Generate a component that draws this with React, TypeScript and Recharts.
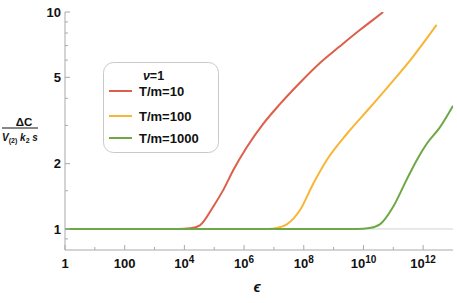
import React from 'react';
import { LineChart, Line, XAxis, YAxis, ReferenceLine } from 'recharts';

// log10(epsilon) and ΔC/(V(2) k2 s)
const redExp = [0, 3.8, 4.2, 4.52, 4.97, 5.3, 5.64, 6.09, 6.64, 7.2, 7.87, 8.54, 9.21, 9.9, 10.3, 10.66];
const redVal = [1, 1, 1.008, 1.04, 1.27, 1.51, 1.87, 2.38, 3.05, 3.76, 4.72, 5.82, 6.95, 8.3, 9.15, 10];
const orangeExp = [0, 6.8, 7.1, 7.43, 7.87, 8.32, 8.76, 9.44, 10.22, 10.89, 11.67, 12.45];
const orangeVal = [1, 1, 1.01, 1.05, 1.22, 1.62, 2.07, 2.74, 3.63, 4.64, 6.25, 8.72];
const greenExp = [0, 9.8, 10.2, 10.55, 11.0, 11.44, 11.78, 12.12, 12.56, 13.0];
const greenVal = [1, 1, 1.01, 1.05, 1.27, 1.68, 2.07, 2.47, 2.94, 3.7];

const seriesNames = ['T/m=10', 'T/m=100', 'T/m=1000'];
const seriesColors = ['#DC5F4A', '#F9B535', '#6DA845'];

const xMajorExp = [0, 2, 4, 6, 8, 10, 12];
const xMinorExp = [1, 3, 5, 7, 9, 11];
const yMajor = [1, 2, 5, 10];
const yMinor = [0.9, 1.5, 3, 4, 6, 7, 8, 9];
const xDomain = [1, 1e13];
const yDomain = [0.8, 10];

const toData = (exps: number[], vals: number[]) =>
  exps.map((e, i) => ({ eps: Math.pow(10, e), dc: vals[i] }));
const seriesData = [toData(redExp, redVal), toData(orangeExp, orangeVal), toData(greenExp, greenVal)];

const xTicks = [...xMajorExp, ...xMinorExp].sort((a, b) => a - b).map((e) => Math.pow(10, e));
const yTicks = [...yMajor, ...yMinor].sort((a, b) => a - b);

const FRAME = '#a9a9a9';
const FONT = '"Liberation Sans", Arial, sans-serif';

const expOf = (v: number) => Math.round(Math.log10(v));
const isXMajor = (v: number) => xMajorExp.includes(expOf(v));
const isYMajor = (v: number) => yMajor.includes(v);

const BottomTick = (p: any) => {
  const { x, y, payload } = p;
  const v = payload.value;
  const e = expOf(v);
  const major = isXMajor(v);
  return (
    <g>
      <line x1={x} x2={x} y1={y} y2={y - (major ? 5 : 3)} stroke={FRAME} />
      {major && (
        <text x={x} y={y + 18} textAnchor="middle" fontSize={13} fontWeight="bold" fontFamily={FONT} fill="#111">
          {e === 0 ? '1' : e === 2 ? '100' : (
            <>
              <tspan>10</tspan>
              <tspan dy={-5} fontSize={10}>{e}</tspan>
            </>
          )}
        </text>
      )}
    </g>
  );
};

const TopTick = (p: any) => {
  const { x, y, payload } = p;
  const major = isXMajor(payload.value);
  return <line x1={x} x2={x} y1={y} y2={y + (major ? 5 : 3)} stroke={FRAME} />;
};

const LeftTick = (p: any) => {
  const { x, y, payload } = p;
  const v = payload.value;
  const major = isYMajor(v);
  return (
    <g>
      <line x1={x} x2={x + (major ? 5 : 3)} y1={y} y2={y} stroke={FRAME} />
      {major && (
        <text x={x - 4} y={y} dy="0.36em" textAnchor="end" fontSize={13} fontWeight="bold" fontFamily={FONT} fill="#111">
          {v}
        </text>
      )}
    </g>
  );
};

const RightTick = (p: any) => {
  const { x, y, payload } = p;
  const major = isYMajor(payload.value);
  return <line x1={x} x2={x - (major ? 5 : 3)} y1={y} y2={y} stroke={FRAME} />;
};

const legendRows = [95.5, 120.5, 142.5];

export default function App() {
  return (
    <div style={{ position: 'absolute', left: 0, top: 0, width: 457, height: 303, background: '#fff' }}>
      <LineChart width={457} height={303} margin={{ top: 12, right: 4, left: 0, bottom: 0 }}>
        <XAxis
          xAxisId="b"
          dataKey="eps"
          type="number"
          scale="log"
          domain={xDomain}
          allowDataOverflow
          ticks={xTicks}
          interval={0}
          height={53}
          tickSize={0}
          tickMargin={0}
          tickLine={false}
          axisLine={{ stroke: FRAME }}
          tick={(p: any) => <BottomTick {...p} />}
        />
        <XAxis
          xAxisId="t"
          orientation="top"
          dataKey="eps"
          type="number"
          scale="log"
          domain={xDomain}
          allowDataOverflow
          ticks={xTicks}
          interval={0}
          height={0}
          tickSize={0}
          tickMargin={0}
          tickLine={false}
          axisLine={{ stroke: FRAME }}
          tick={(p: any) => <TopTick {...p} />}
        />
        <YAxis
          yAxisId="l"
          type="number"
          scale="log"
          domain={yDomain}
          allowDataOverflow
          ticks={yTicks}
          interval={0}
          width={65}
          tickSize={0}
          tickMargin={0}
          tickLine={false}
          axisLine={{ stroke: FRAME }}
          tick={(p: any) => <LeftTick {...p} />}
        />
        <YAxis
          yAxisId="r"
          orientation="right"
          type="number"
          scale="log"
          domain={yDomain}
          allowDataOverflow
          ticks={yTicks}
          interval={0}
          width={0}
          tickSize={0}
          tickMargin={0}
          tickLine={false}
          axisLine={{ stroke: FRAME }}
          tick={(p: any) => <RightTick {...p} />}
        />
        <ReferenceLine xAxisId="b" yAxisId="l" y={1} stroke="#d2d2d2" strokeWidth={1} />
        {seriesData.map((d, i) => (
          <Line
            key={seriesNames[i]}
            xAxisId="b"
            yAxisId="l"
            data={d}
            dataKey="dc"
            type="monotone"
            stroke={seriesColors[i]}
            strokeWidth={2}
            dot={false}
            activeDot={false}
            isAnimationActive={false}
          />
        ))}
      </LineChart>
      <svg
        width={457}
        height={303}
        style={{ position: 'absolute', left: 0, top: 0, pointerEvents: 'none' }}
        fontFamily={FONT}
      >
        {/* y-axis label */}
        <text x={24} y={125.5} textAnchor="middle" fontSize={11.5} fontWeight="bold" fill="#111">ΔC</text>
        <line x1={2} x2={38} y1={128} y2={128} stroke="#111" strokeWidth={1} />
        <text x={20} y={141} textAnchor="middle" fontSize={10} fontWeight="bold" fontStyle="italic" fill="#111">
          V<tspan fontSize={7} fontStyle="normal" dy={2}>(2)</tspan>
          <tspan dy={-2}> k</tspan>
          <tspan fontSize={7} fontStyle="normal" dy={2}>2</tspan>
          <tspan dy={-2}> s</tspan>
        </text>
        {/* x-axis label */}
        <text x={257} y={292} textAnchor="middle" fontSize={15} fontWeight="bold" fontStyle="italic" fill="#111">ϵ</text>
        {/* legend */}
        <rect x={103.5} y={62.5} width={115} height={90} rx={10} ry={10} fill="#fff" stroke="#c9c9c9" />
        <text x={153.5} y={79.5} textAnchor="middle" fontSize={12.5} fontWeight="bold" fill="#111">
          <tspan fontStyle="italic">ν</tspan>=1
        </text>
        {seriesNames.map((n, i) => (
          <g key={n}>
            <line x1={109} x2={132} y1={legendRows[i] - 4.5} y2={legendRows[i] - 4.5} stroke={seriesColors[i]} strokeWidth={2} />
            <text x={139} y={legendRows[i]} fontSize={13} fontWeight="bold" fill="#111">{n}</text>
          </g>
        ))}
      </svg>
    </div>
  );
}
